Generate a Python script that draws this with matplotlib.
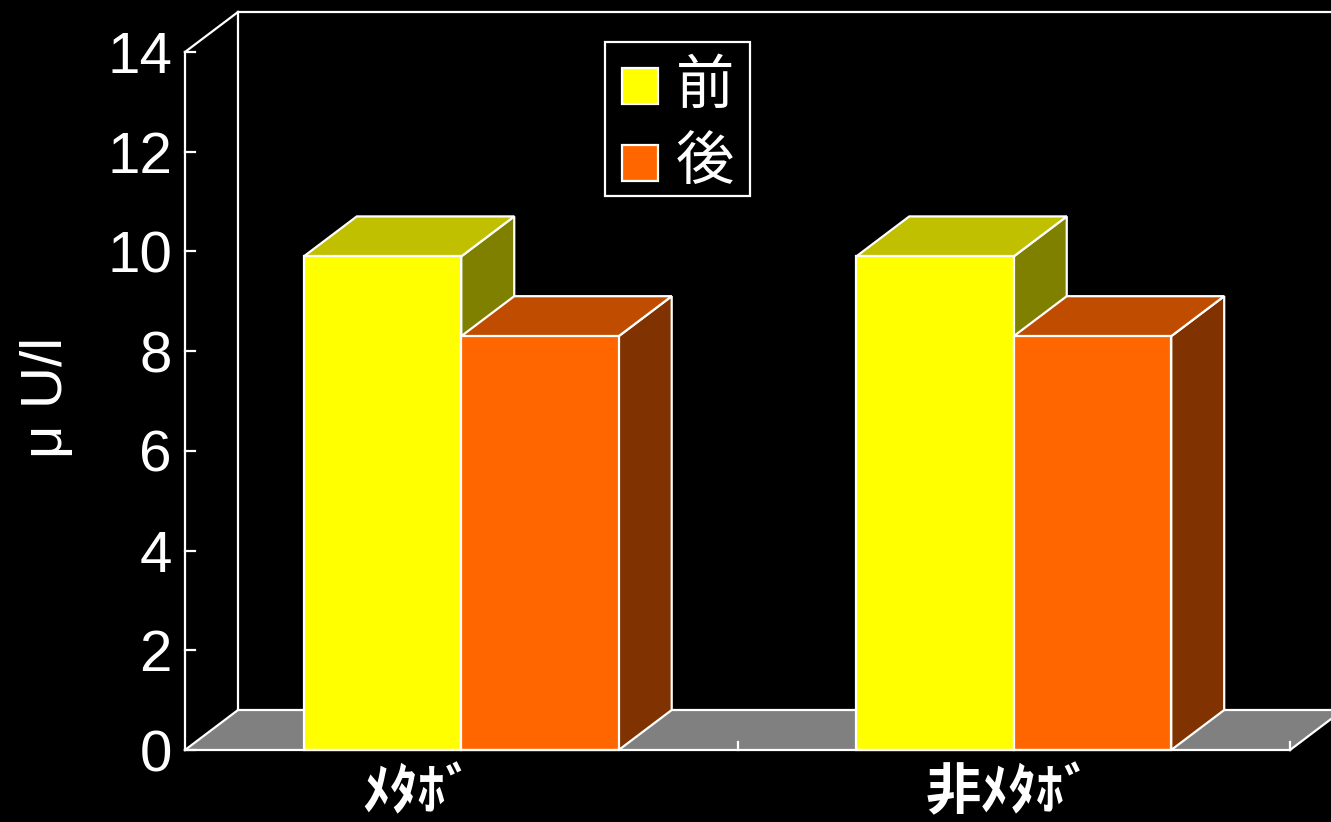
import matplotlib
matplotlib.use("Agg")
import matplotlib.pyplot as plt
from matplotlib.patches import Polygon, Rectangle

# ---- data ----
categories = ["ﾒﾀﾎﾞ", "非ﾒﾀﾎﾞ"]
series_names = ["前", "後"]
before_vals = [9.9, 9.9]
after_vals = [8.3, 8.3]
y_ticks = [0, 2, 4, 6, 8, 10, 12, 14]
y_label = "μ U/l"

# ---- style / geometry ----
W, H = 1331, 822
front_colors = ["#FFFF00", "#FF6600"]
top_colors = ["#C0C000", "#C04C00"]
side_colors = ["#808000", "#803300"]
floor_color = "#808080"
EDGE = "white"
LW = 1.6
CJK = ["Noto Sans CJK JP", "DejaVu Sans"]

# pixel mapping of the front plane
x0_px, cat_px = 185.0, 552.5
y0_px, unit_px = 750.0, 49.857
dx = 53.0 / cat_px        # depth offset in x units
dy = 40.0 / unit_px       # depth offset in y units
bar_w = 0.285
ymax = 14

fig = plt.figure(figsize=(W / 100, H / 100), dpi=100, facecolor="black")
ax = fig.add_axes([0, 0, 1, 1])
ax.set_facecolor("black")
ax.set_xlim(-x0_px / cat_px, (W - x0_px) / cat_px)
ax.set_ylim(-(H - y0_px) / unit_px, y0_px / unit_px)
ax.axis("off")

ncat = len(categories)
right_end = ncat

# back wall lines
ax.plot([dx, dx], [dy, ymax + dy], color=EDGE, lw=LW, zorder=1)
ax.plot([dx, 10], [ymax + dy, ymax + dy], color=EDGE, lw=LW, zorder=1)
ax.plot([0, dx], [ymax, ymax + dy], color=EDGE, lw=LW, zorder=1)

# floor
floor = Polygon([(0, 0), (right_end, 0), (right_end + dx, dy), (10, dy), (dx, dy)],
                closed=False, facecolor=floor_color, edgecolor="none", zorder=1)
ax.add_patch(floor)
ax.plot([0, dx], [0, dy], color=EDGE, lw=LW, zorder=1.5)
ax.plot([dx, 10], [dy, dy], color=EDGE, lw=LW, zorder=1.5)
ax.plot([right_end, right_end + dx], [0, dy], color=EDGE, lw=LW, zorder=1.5)

# front axis lines and ticks
ax.plot([0, 0], [0, ymax], color=EDGE, lw=LW, zorder=5)
ax.plot([0, right_end], [0, 0], color=EDGE, lw=LW, zorder=5)
tick_len_x = 10 / cat_px
for t in y_ticks:
    ax.plot([0, tick_len_x], [t, t], color=EDGE, lw=LW, zorder=5)
    ax.text(-13 / cat_px, t - 6 / unit_px, str(t), color="white", fontsize=42,
            family="Liberation Sans", ha="right", va="center", zorder=6)
for i in range(1, ncat + 1):
    ax.plot([i, i], [0, 8 / unit_px], color=EDGE, lw=LW, zorder=5)

# bars
def draw_bar(xl, xr, v, k, z):
    ax.add_patch(Polygon([(xl, 0), (xr, 0), (xr, v), (xl, v)],
                         facecolor=front_colors[k], edgecolor=EDGE, lw=LW, zorder=z + 0.2))
    ax.add_patch(Polygon([(xl, v), (xr, v), (xr + dx, v + dy), (xl + dx, v + dy)],
                         facecolor=top_colors[k], edgecolor=EDGE, lw=LW, zorder=z + 0.1))
    ax.add_patch(Polygon([(xr, 0), (xr + dx, dy), (xr + dx, v + dy), (xr, v)],
                         facecolor=side_colors[k], edgecolor=EDGE, lw=LW, zorder=z))

for i in range(ncat):
    c = i + 0.5
    draw_bar(c - bar_w, c, before_vals[i], 0, 2)
    draw_bar(c, c + bar_w, after_vals[i], 1, 3)

# category labels
label_shift = [-43 / cat_px, -5 / cat_px]
for i, lab in enumerate(categories):
    ax.text(i + 0.5 + label_shift[i], -43 / unit_px, lab, color="white", fontsize=40,
            family=CJK, fontweight="bold", ha="center", va="center", zorder=6)

# y label
fig.text(47 / W, 1 - 397 / H, y_label, color="white", fontsize=42, rotation=90,
         family="Liberation Sans", ha="center", va="center")

# legend (drawn in figure pixel space)
def fx(px):
    return px / W

def fy(py):
    return 1 - py / H

fig.patches.append(Rectangle((fx(605), fy(196)), fx(750) - fx(605), fy(42) - fy(196),
                             transform=fig.transFigure, facecolor="black",
                             edgecolor=EDGE, lw=LW, zorder=10))
leg_rows = [86, 163]
for k, name in enumerate(series_names):
    yc = leg_rows[k]
    fig.patches.append(Rectangle((fx(622), fy(yc + 18)), fx(658) - fx(622), fy(yc - 18) - fy(yc + 18),
                                 transform=fig.transFigure, facecolor=front_colors[k],
                                 edgecolor=EDGE, lw=LW, zorder=11))
    fig.text(fx(676), fy(yc), name, color="white", fontsize=42, family=CJK,
             ha="left", va="center", zorder=12)

fig.savefig("out.png", dpi=100, facecolor="black")
